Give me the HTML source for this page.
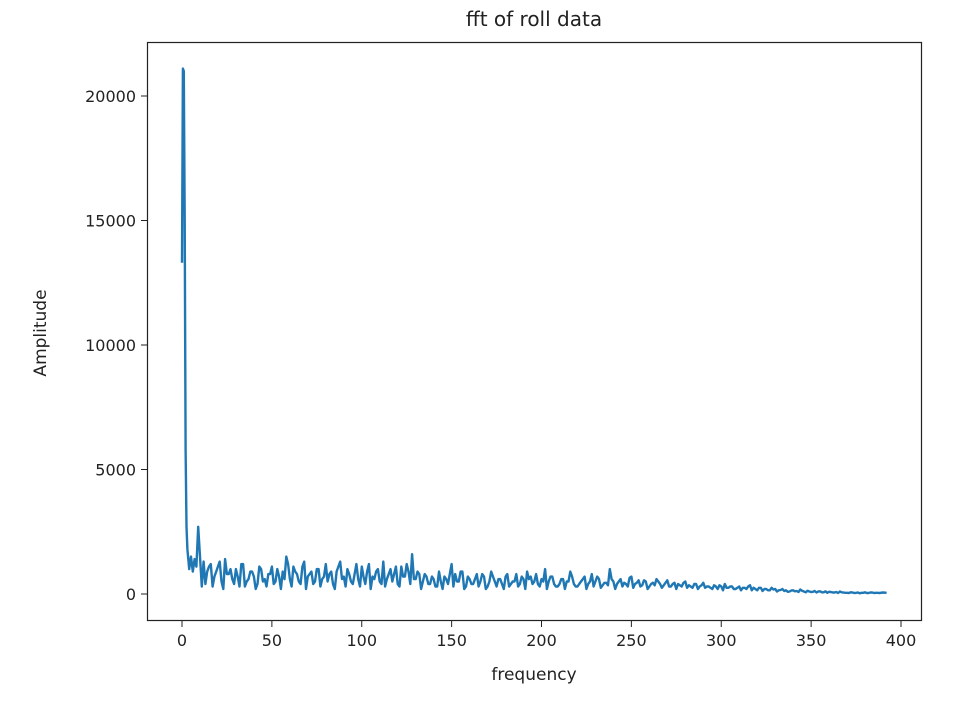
<!DOCTYPE html>
<html><head><meta charset="utf-8"><style>
body{margin:0;background:#fff;}
svg text{font-family:"DejaVu Sans","Liberation Sans",sans-serif;fill:#222;}
</style></head><body>
<svg width="974" height="701">
<rect x="0" y="0" width="974" height="701" fill="#fff"/>
<g id="plot"></g>
<rect x="147.5" y="42.5" width="774" height="578" fill="none" stroke="#222" stroke-width="1.2"/>
<text x="534" y="26" font-size="20" text-anchor="middle">fft of roll data</text>
<text x="534" y="680" font-size="17" text-anchor="middle">frequency</text>
<text x="46" y="333" font-size="17" text-anchor="middle" transform="rotate(-90 46 333)">Amplitude</text>
<g id="ticks"></g>
</svg>
<script>
const xTicks=[0,50,100,150,200,250,300,350,400];
const yTicks=[0,5000,10000,15000,20000];
const headFreq=[0,0.5,1,1.5,2,2.5,3,4,5,6,7,8,9,10,11];
const headAmp=[13300,21100,21000,15000,5800,2700,1800,1000,1500,900,1400,1100,2700,1500,300];
const tailAmp=[1300,900,1200,700,1100,500,1400,800,600,1000,300,1200,500,900,700,400,1000,600,800,1100,500,700,900,1500,600,1100,800,400,1300,700,900,500,1000,600,1200,800,400,900,1300,700,1000,500,800,600,1100,400,1200,700,900,500,1300,600,1000,800,400,1100,700,900,1600,600,800,500,700,400,600,300,500,700,400,1200,800,500,900,300,600,400,800,500,700,300,900,500,600,400,700,300,500,800,400,600,900,700,500,400,600,1000,500,700,300,400,600,500,900,400,300,500,700,400,800,500,600,350,450,1000,500,400,600,450,300,700,400,550,350,500,300,450,600,400,350,550,300,450,400,300,500,350,250,400,300,450,300,250,350,200,300,400,250,300,200,300,250,200,350,250,150,250,200,150,250,200,150,200,150,100,150,120,180,100,130,80,120,100,70,110,90,60,80,100,60,50,70,40,60,50,70,40,60,50,40,60,50];
const tailAmpOdd=[400,1100,300,900,1300,200,800,1000,400,700,1200,300,600,900,200,1100,500,300,800,400,1000,200,600,1200,300,900,500,1100,200,800,400,1000,300,700,500,900,200,1100,600,300,800,400,1200,300,700,900,200,600,1000,400,300,800,500,1100,300,700,1200,400,600,900,200,800,400,700,300,900,200,600,800,300,500,900,200,700,400,600,300,800,200,500,700,300,600,200,800,400,500,300,700,200,600,400,800,300,500,200,700,400,300,600,200,500,700,300,400,600,200,500,300,700,250,450,350,600,200,500,300,400,650,250,450,300,550,200,400,350,500,250,450,300,400,200,350,450,250,300,400,200,350,250,300,200,300,350,150,250,300,200,250,150,250,300,150,200,250,120,200,150,180,100,160,120,90,140,110,80,130,70,100,90,60,110,70,50,80,60,40,70,50,40,60,50,30,50,40,60,40,50];
const tailStart=12, tailStep=2;
const X=v=>182+v*1.7975, Y=v=>594-v*0.0249;
const plot=document.getElementById('plot'), tk=document.getElementById('ticks');
const ns='http://www.w3.org/2000/svg';
let pts=[];
headFreq.forEach((f,i)=>pts.push(X(f).toFixed(1)+','+Y(headAmp[i]).toFixed(1)));
tailAmp.forEach((a,i)=>{
 pts.push(X(tailStart+i*tailStep).toFixed(1)+','+Y(a).toFixed(1));
 if(i<tailAmpOdd.length) pts.push(X(tailStart+i*tailStep+1).toFixed(1)+','+Y(tailAmpOdd[i]).toFixed(1));
});
const pl=document.createElementNS(ns,'polyline');
pl.setAttribute('points',pts.join(' '));
pl.setAttribute('fill','none');pl.setAttribute('stroke','#1f77b4');pl.setAttribute('stroke-width','2.4');pl.setAttribute('stroke-linejoin','round');


plot.appendChild(pl);
xTicks.forEach(t=>{
 const l=document.createElementNS(ns,'line');
 l.setAttribute('x1',X(t));l.setAttribute('x2',X(t));l.setAttribute('y1',621);l.setAttribute('y2',627);l.setAttribute('stroke','#222');
 
 
 tk.appendChild(l);
 const tx=document.createElementNS(ns,'text');
 tx.setAttribute('x',X(t));tx.setAttribute('y',646);tx.setAttribute('font-size','16');tx.setAttribute('text-anchor','middle');
 tx.textContent=t;
 
 
 tk.appendChild(tx);
});
yTicks.forEach(t=>{
 const l=document.createElementNS(ns,'line');
 l.setAttribute('x1',141);l.setAttribute('x2',147);l.setAttribute('y1',Y(t));l.setAttribute('y2',Y(t));l.setAttribute('stroke','#222');
 
 
 tk.appendChild(l);
 const tx=document.createElementNS(ns,'text');
 tx.setAttribute('x',136);tx.setAttribute('y',Y(t)+6);tx.setAttribute('font-size','16');tx.setAttribute('text-anchor','end');
 tx.textContent=t;
 
 
 tk.appendChild(tx);
});
</script>
</body></html>
